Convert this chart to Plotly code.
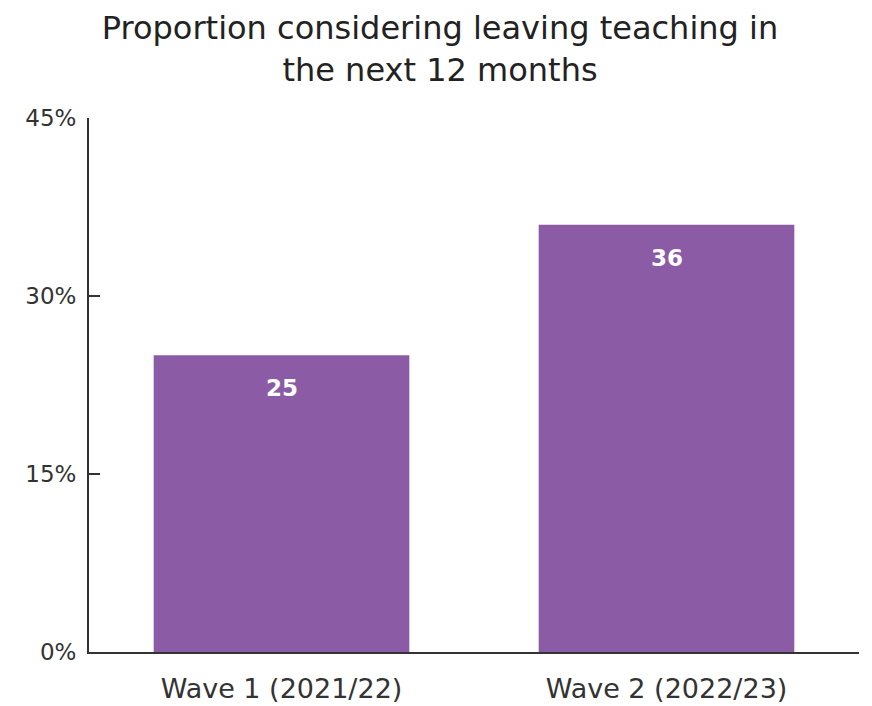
import plotly.graph_objects as go

title_text = "Proportion considering leaving teaching in<br>the next 12 months"
categories = ["Wave 1 (2021/22)", "Wave 2 (2022/23)"]
values = [25, 36]
tick_vals = [0, 15, 30, 45]
tick_text = ["0%", "15%", "30%", "45%"]

bar_color = "#8B5BA5"
font_family = "DejaVu Sans, sans-serif"

fig = go.Figure()
fig.add_trace(go.Bar(
    x=categories,
    y=values,
    marker=dict(color=bar_color, line=dict(width=0)),
    hoverinfo="skip",
))

for c, v in zip(categories, values):
    fig.add_annotation(
        x=c, y=v, text=f"<b>{v}</b>", showarrow=False,
        yshift=-33, font=dict(color="white", size=23, family=font_family),
    )

fig.update_layout(
    width=864, height=698,
    margin=dict(l=81, r=13, t=110, b=54, autoexpand=False),
    paper_bgcolor="white", plot_bgcolor="white",
    bargap=0.336,
    showlegend=False,
    title=dict(
        text=title_text, x=0.5, xanchor="center",
        yref="container", y=0.955, yanchor="middle",
        font=dict(size=32, color="#222222", family=font_family),
    ),
    font=dict(family=font_family, color="#333333"),
)

fig.update_yaxes(
    range=[0, 45], tickvals=tick_vals, ticktext=tick_text,
    showgrid=False, zeroline=False,
    showline=True, linecolor="#333333", linewidth=2,
    ticks="inside", ticklen=11, tickwidth=2, tickcolor="#333333",
    tickfont=dict(size=23, color="#333333"),
    ticklabelstandoff=6, automargin=False,
)
fig.update_xaxes(
    showgrid=False, zeroline=False,
    showline=True, linecolor="#333333", linewidth=2,
    ticks="", tickfont=dict(size=27, color="#333333"),
    ticklabelstandoff=12, automargin=False,
)

fig.write_html("out.html")
